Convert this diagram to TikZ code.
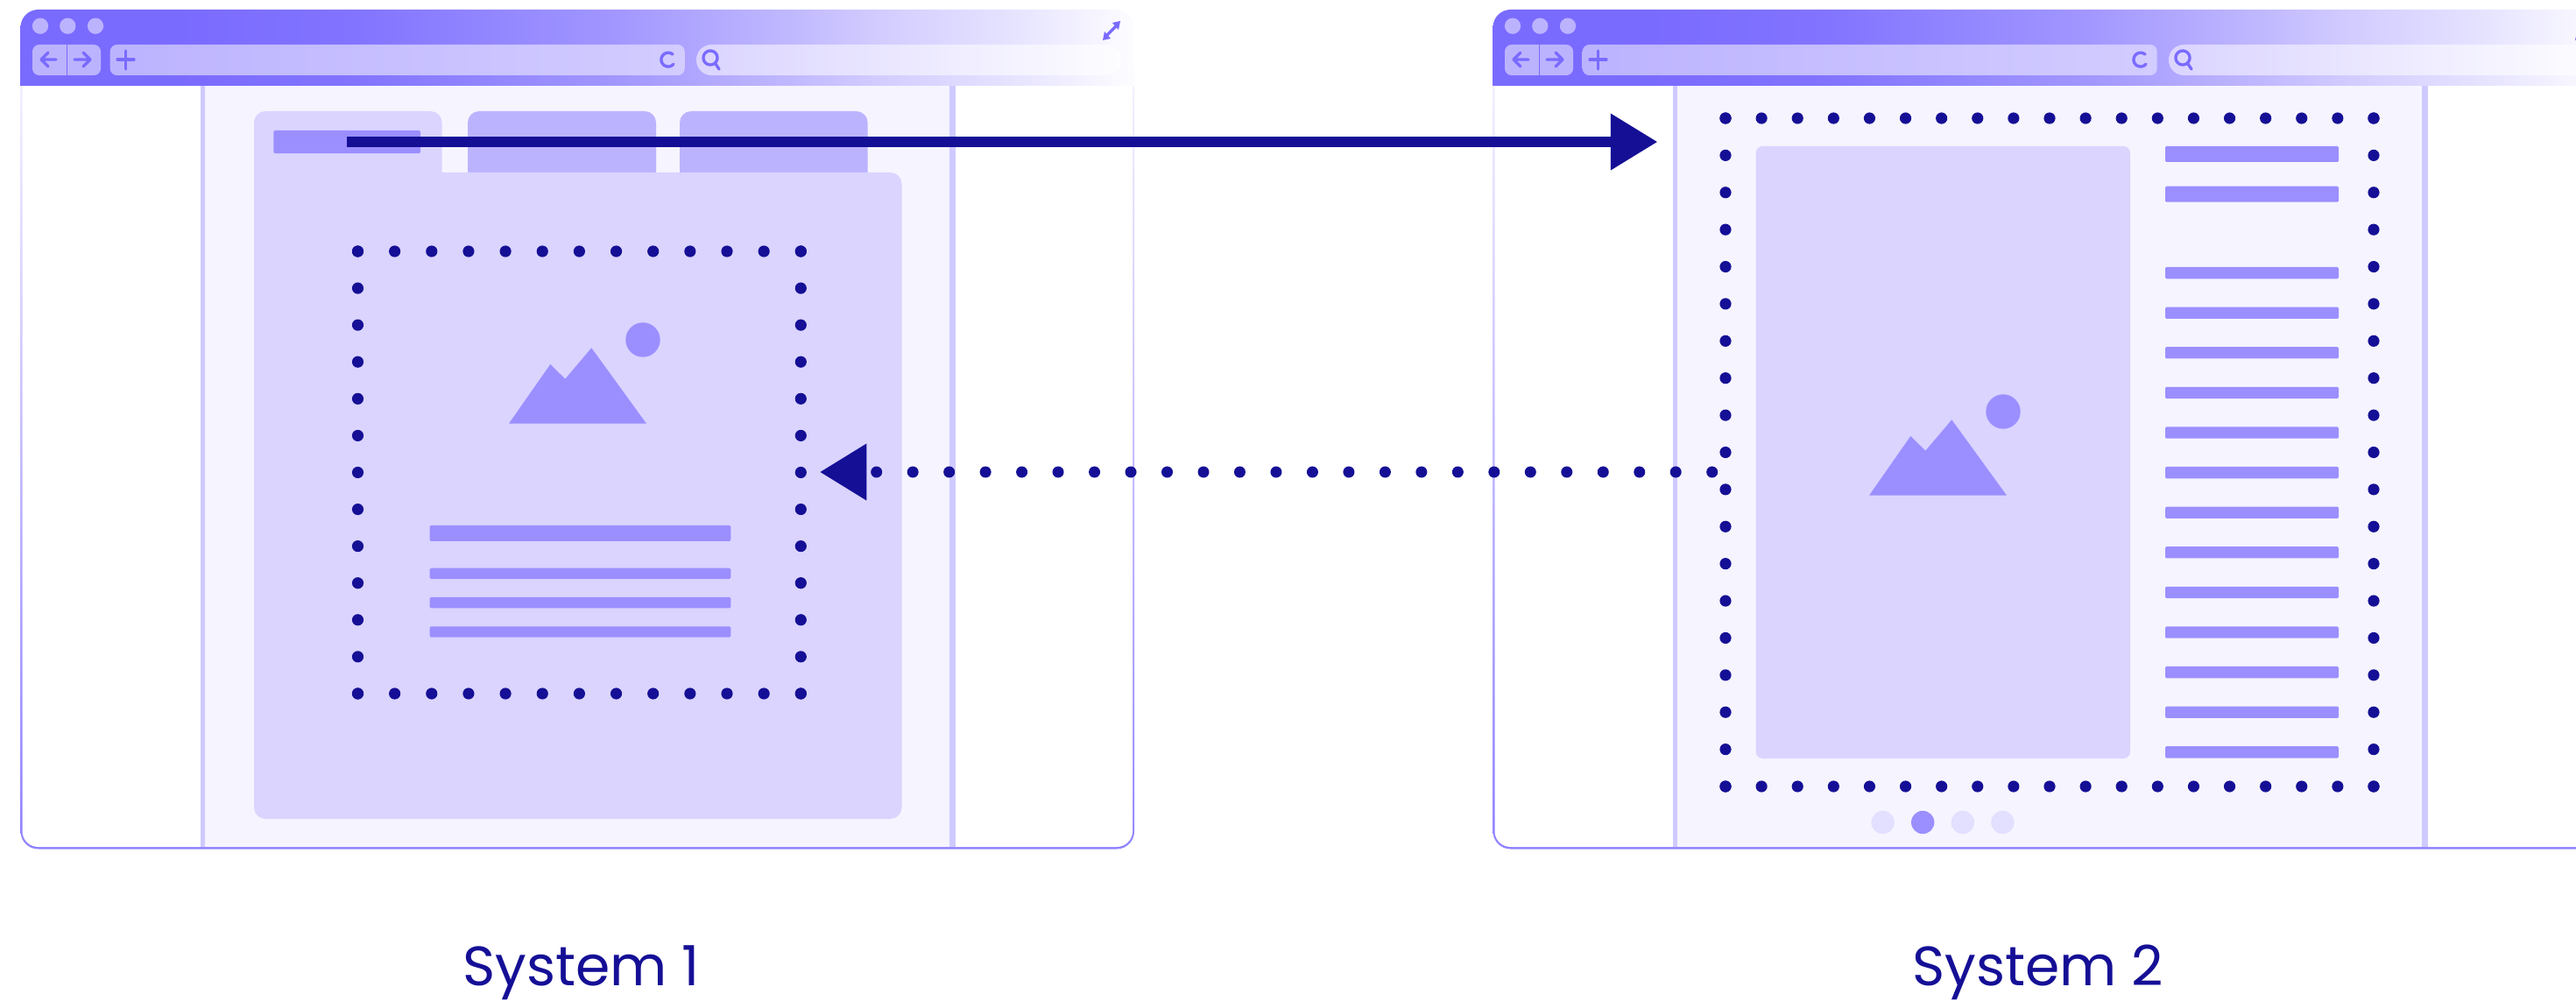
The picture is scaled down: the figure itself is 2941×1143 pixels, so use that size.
\documentclass[tikz,border=0pt]{standalone}
\usepackage{fontspec}
\usetikzlibrary{arrows.meta}

\newfontfamily\labelfont{Poppins}

\definecolor{ink}{HTML}{150F96}
\definecolor{bar_mid}{HTML}{9B8FFF}
\definecolor{edge_dark}{HTML}{8F82FF}
\definecolor{card_soft}{HTML}{DAD4FF}
\definecolor{tab_mid}{HTML}{BCB3FF}
\definecolor{panel_pale}{HTML}{F6F4FF}
\definecolor{stripe_pale}{HTML}{CFCAFF}
\definecolor{pager_pale}{HTML}{E2DFFF}
\definecolor{chrome}{HTML}{7A6BFF}
\definecolor{chrome_b}{HTML}{8274FF}
\definecolor{chrome_c}{HTML}{A196FF}
\definecolor{chrome_d}{HTML}{C0B8FF}
\definecolor{chrome_e}{HTML}{D2CCFF}
\definecolor{chrome_f}{HTML}{E5E2FF}
\definecolor{chrome_g}{HTML}{FDFDFF}

\pgfdeclarehorizontalshading{title_fade}{100bp}{color(0bp)=(chrome); color(25bp)=(chrome);
	color(32bp)=(chrome); color(40bp)=(chrome_b); color(51.5bp)=(chrome_c); color(59.5bp)=(chrome_d);
	color(63.5bp)=(chrome_e); color(69.3bp)=(chrome_f); color(75bp)=(chrome_g); color(100bp)=(chrome_g)}

\tikzset{>=latex}

\begin{document}
\begin{tikzpicture}[x=0.01cm,y=-0.01cm]

	\tikzstyle{dot_ink} = [circle, fill=ink, inner sep=0pt, minimum size=3.75pt]
	\tikzstyle{bar_fill} = [fill=bar_mid, rounded corners=0.4pt]
	\tikzstyle{chrome_btn} = [fill=tab_mid, rounded corners=2.2pt]
	\tikzstyle{chrome_icon} = [draw=chrome, line width=0.95pt, line cap=round, line join=round]
	\tikzstyle{sys_label} = [anchor=base, text=ink, font=\labelfont\fontsize{18}{21}\selectfont, inner sep=0pt]
	\tikzstyle{solid_link} = [ink, line width=3.56pt, -{Triangle[length=15.25pt,width=17.44pt]}]
	\tikzstyle{dotted_link} = [ink, line width=3.7pt, line cap=round, dash pattern=on 0pt off 11.795pt, -{Triangle[length=15.25pt,width=17.44pt]}]

	\clip (0,0) rectangle (2941,1143);

%------------------------------------------------------------
	\foreach \winx in {0,1681} {
	\begin{scope}[shift={(\winx,0)}]
		\shade[top color=panel_pale, bottom color=edge_dark, rounded corners=5.7pt] (23.5,60) rectangle (1295,969.5);
		\fill[white, rounded corners=5.1pt] (25.5,60) rectangle (1293,967);

		\fill[stripe_pale] (228.6,98) rectangle (234.4,967);
		\fill[panel_pale] (234.4,98) rectangle (1084,967);
		\fill[stripe_pale] (1084,98) rectangle (1091,967);

		\shade[shading=title_fade, rounded corners=5.7pt] (23.5,98) -- (23.5,11) -- (1295,11) [sharp corners] -- (1295,98) -- cycle;

		\foreach \lx in {46,77.3,109}
			\fill[tab_mid] (\lx,29.7) circle (2.6pt);

		\fill[chrome_btn] (37,51) rectangle (115,86);
		\draw[chrome, line width=0.3pt] (76.7,51) -- (76.7,86);
		\shade[left color=tab_mid, right color=chrome_e, rounded corners=2.2pt] (125.7,51) rectangle (781.7,86);
		\shade[left color=card_soft, right color=chrome_g, rounded corners=4.9pt] (795,51) rectangle (1280,86);

		\draw[chrome_icon] (64,68) -- (47,68) (55,60) -- (47,68) -- (55,76);
		\draw[chrome_icon] (85,68) -- (103,68) (95,60) -- (103,68) -- (95,76);
		\draw[chrome_icon] (134,68) -- (153,68) (143.5,58) -- (143.5,79);
		\draw[chrome_icon] (768,62) arc (-50:-320:8);
		\draw[chrome_icon] (811,66) circle (2.3pt) (817,73) -- (821,79);
		\fill[chrome] (1259,46) -- (1261,36) -- (1268,44) -- cycle (1279,24) -- (1277,34) -- (1270,26) -- cycle;
		\draw[chrome_icon] (1263,41) -- (1275,29);
	\end{scope}
	}

%------------------------------------------------------------
	\foreach \tabx/\taby in {534/749,776/990.6}
		\fill[tab_mid, rounded corners=3.7pt] (\tabx,215) -- (\tabx,127) -- (\taby,127) -- (\taby,215) -- cycle;
	\fill[card_soft, rounded corners=3.7pt] (290,240) -- (290,127) -- (504.5,127) -- (504.5,240) -- cycle;
	\fill[card_soft, rounded corners=3.7pt] (290,197) rectangle (1029.5,935);

	\node[bar_fill, inner sep=0pt, minimum width=47.65pt, minimum height=7.4pt] (tab_bar) at (396.25,162) {};

	\fill[bar_mid] (734,388) circle (5.6pt);
	\fill[bar_mid] (581,483.7) -- (628.3,416) -- (645.3,432.7) -- (675.3,397.3) -- (738,483.7) -- cycle;

	\fill[bar_fill] (490.7,600) rectangle (834.3,618);
	\foreach \barx in {648.7,682,715.3}
		\fill[bar_fill] (490.7,\barx) rectangle (834.3,\barx+12.4);

%------------------------------------------------------------
	\fill[card_soft, rounded corners=2.2pt] (2004.5,167) rectangle (2432,866);

	\fill[bar_mid] (2287,470) circle (5.6pt);
	\fill[bar_mid] (2134,565.7) -- (2181.3,498) -- (2198.3,514.7) -- (2228.3,479.3) -- (2291,565.7) -- cycle;

	\fill[bar_fill] (2472,167) rectangle (2670,185);
	\fill[bar_fill] (2472,212.7) rectangle (2670,230.7);
	\foreach \i in {0,...,12}
		\fill[bar_fill] (2472,305+\i*45.6) rectangle (2670,318.3+\i*45.6);

	\foreach \i/\pagercol in {0/pager_pale,1/bar_mid,2/pager_pale,3/pager_pale}
		\fill[\pagercol] (2149.6+\i*45.6,939) circle (3.75pt);

%------------------------------------------------------------
	\foreach \i in {0,...,12} {
		\node[dot_ink] (fa_top\i) at (408.5+\i*42.15,287) {};
		\node[dot_ink] (fa_bot\i) at (408.5+\i*42.15,792) {};
		\node[dot_ink] (fa_lef\i) at (408.5,287+\i*42.08) {};
		\node[dot_ink] (fa_rig\i) at (914.3,287+\i*42.08) {};
	}

	\foreach \i in {0,...,18} {
		\node[dot_ink] (fb_top\i) at (1970+\i*41.11,135) {};
		\node[dot_ink] (fb_bot\i) at (1970+\i*41.11,898) {};
		\node[dot_ink] (fb_lef\i) at (1970,135+\i*42.39) {};
		\node[dot_ink] (fb_rig\i) at (2710,135+\i*42.39) {};
	}

%------------------------------------------------------------
	\coordinate (solid_end) at (1892.5,162);
	\coordinate (dotted_start) at (1954.7,539);
	\coordinate (dotted_end) at (935.8,539);

	\draw[solid_link] (tab_bar.center) -- (solid_end);
	\draw[dotted_link] (dotted_start) -- (dotted_end);

	\node[sys_label] (sys_one) at (664,1125) {System 1};
	\node[sys_label] (sys_two) at (2327,1125) {System 2};

\end{tikzpicture}
\end{document}
